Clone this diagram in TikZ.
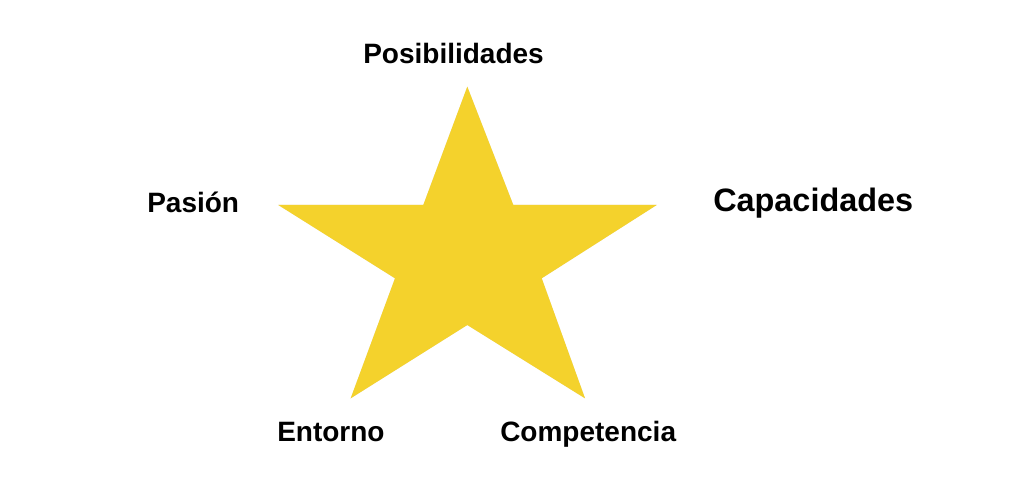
\documentclass[tikz,border=0pt]{standalone}
\usepackage{fontspec}
\setmainfont{Liberation Sans}
\definecolor{staryellow}{HTML}{F4D22C}
\definecolor{starshadow}{HTML}{D9C9A0}
\begin{document}
\begin{tikzpicture}[x=0.75pt,y=-0.75pt,
  lbl/.style={anchor=base west,inner sep=0pt,font=\bfseries\fontsize{21}{24}\selectfont},
  biglbl/.style={anchor=base west,inner sep=0pt,font=\bfseries\fontsize{24.3}{28}\selectfont}]
\useasboundingbox (0,0) rectangle (1024,498);
\fill[white] (0,0) rectangle (1024,498);
% star points
\coordinate (top) at (467.3,86.7);
\coordinate (iur) at (513.3,205);
\coordinate (right) at (656.7,205);
\coordinate (ir) at (541.7,278.3);
\coordinate (br) at (585,398.3);
\coordinate (ib) at (467.3,325);
\coordinate (bl) at (350.7,398.3);
\coordinate (il) at (395,278.3);
\coordinate (left) at (278.3,205);
\coordinate (iul) at (423.3,205);
\fill[starshadow,opacity=0.6,shift={(1,1.5)}] (top) -- (iur) -- (right) -- (ir) -- (br) -- (ib) -- (bl) -- (il) -- (left) -- (iul) -- cycle;
\fill[staryellow] (top) -- (iur) -- (right) -- (ir) -- (br) -- (ib) -- (bl) -- (il) -- (left) -- (iul) -- cycle;
% labels
\node[lbl] (pos) at (363,64) {Posibilidades};
\node[lbl] (pas) at (147,213) {Pasión};
\node[biglbl] (cap) at (713,212) {Capacidades};
\node[lbl] (ent) at (277,441) {Entorno};
\node[lbl] (com) at (500,441) {Competencia};
\end{tikzpicture}
\end{document}
